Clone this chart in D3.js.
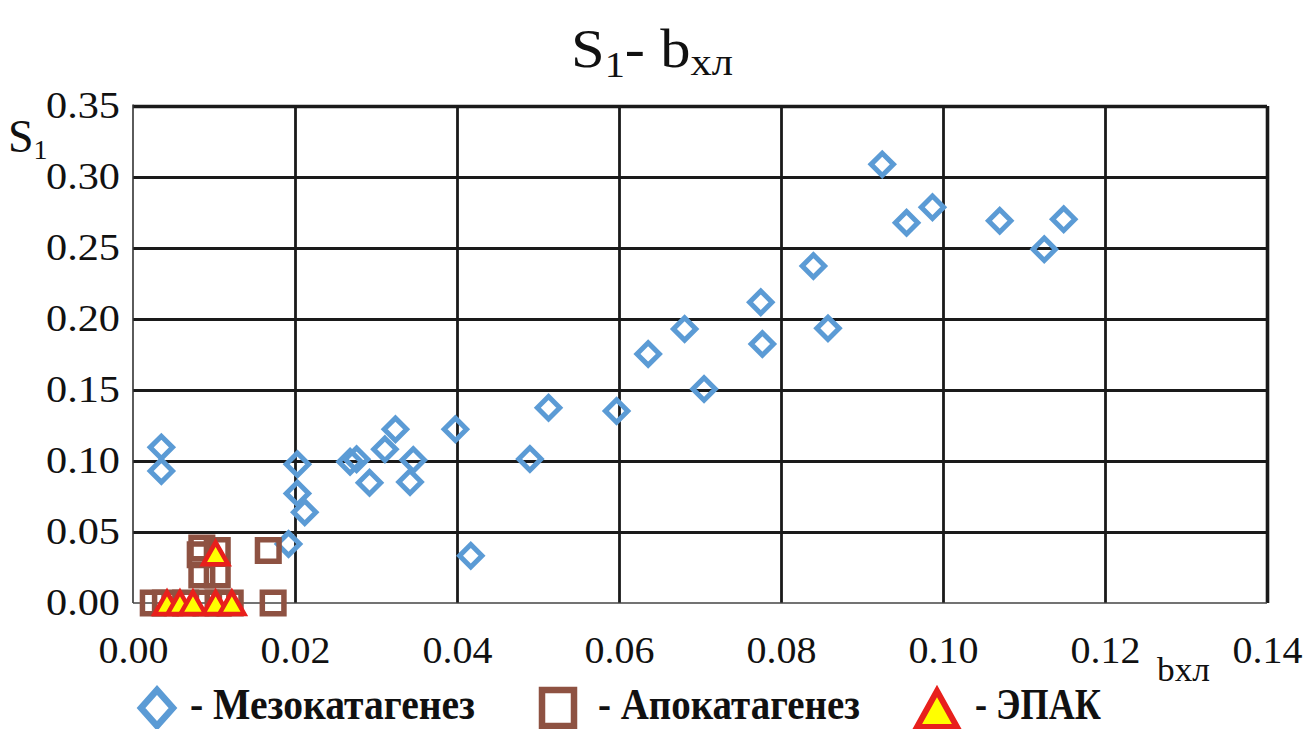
<!DOCTYPE html>
<html><head><meta charset="utf-8">
<script src="https://cdn.jsdelivr.net/npm/d3@7"></script>
<style>html,body{margin:0;padding:0;background:#fff;}svg{display:block;}</style>
</head><body>
<svg id="chart" width="1305" height="729"></svg>
<script>
// ---- Data ----
const xTicks = [0, 0.02, 0.04, 0.06, 0.08, 0.10, 0.12, 0.14];
const yTicks = [0, 0.05, 0.10, 0.15, 0.20, 0.25, 0.30, 0.35];

const mesoX = [0.0035, 0.0035, 0.0192, 0.0203, 0.0203, 0.0212, 0.0268, 0.0276, 0.0292, 0.0311, 0.0324, 0.0342, 0.0346, 0.0398, 0.0417,
  0.0490, 0.0513, 0.0597, 0.0636, 0.0681, 0.0705, 0.0775, 0.0777, 0.0840, 0.0858, 0.0925, 0.0955, 0.0987, 0.1070, 0.1125, 0.1149];
const mesoY = [0.1096, 0.0930, 0.0415, 0.0977, 0.0772, 0.0639, 0.0995, 0.1012, 0.0847, 0.1082, 0.1223, 0.0852, 0.1007, 0.1223, 0.0333,
  0.1014, 0.1375, 0.1352, 0.1754, 0.1930, 0.1507, 0.2118, 0.1824, 0.2373, 0.1934, 0.3089, 0.2678, 0.2787, 0.2692, 0.2491, 0.2702];

const apoX = [0.0083, 0.0085, 0.0104, 0.0167, 0.0085, 0.0104, 0.0025, 0.0040, 0.0065, 0.0090, 0.0105, 0.0120, 0.0173];
const apoY = [0.0340, 0.0387, 0.0370, 0.0370, 0.0197, 0.0197, 0, 0, 0, 0, 0, 0, 0];

const epakX = [0.0102, 0.0042, 0.0058, 0.0074, 0.0102, 0.0122];
const epakY = [0.0350, 0, 0, 0, 0, 0];

const legendLabels = ["- Мезокатагенез", "- Апокатагенез", "- ЭПАК"];

// ---- Layout ----
const svg = d3.select("#chart");
const L = 133, R = 1267, T = 106, B = 603;
const x = d3.scaleLinear().domain([0, 0.14]).range([L, R]);
const y = d3.scaleLinear().domain([0, 0.35]).range([B, T]);
const serif = "Liberation Serif, Times New Roman, serif";
const blue = "#5B9BD5", brown = "#8E5242", red = "#E8201C", yellow = "#FFFF00";

// grid via axes
const gx = svg.append("g").attr("transform", `translate(0,${B})`)
  .call(d3.axisBottom(x).tickValues(xTicks.filter(v => v > 0)).tickSize(-(B - T)).tickFormat(""));
gx.select(".domain").remove();
gx.selectAll("line").attr("stroke", "#1a1a1a").attr("stroke-width", 2.8);
gx.selectAll(".tick").filter(d => d === 0.14).select("line").attr("stroke-width", 3.6);

const gy = svg.append("g").attr("transform", `translate(${L},0)`)
  .call(d3.axisLeft(y).tickValues(yTicks.filter(v => v > 0)).tickSize(-(R - L)).tickFormat(""));
gy.select(".domain").remove();
gy.selectAll("line").attr("stroke", "#1a1a1a").attr("stroke-width", 2.8);
gy.selectAll(".tick").filter(d => d === 0.35).select("line").attr("stroke-width", 3.6);

// thin axis lines
svg.append("line").attr("x1", L).attr("x2", L).attr("y1", T - 1.5).attr("y2", B)
  .attr("stroke", "#333").attr("stroke-width", 1.6);
svg.append("line").attr("x1", L).attr("x2", R).attr("y1", B).attr("y2", B)
  .attr("stroke", "#444").attr("stroke-width", 1.6);

// tick labels via axes
const lx = svg.append("g").attr("transform", `translate(0,${B})`)
  .call(d3.axisBottom(x).tickValues(xTicks).tickSize(0).tickPadding(0).tickFormat(d3.format(".2f")));
lx.select(".domain").remove();
lx.selectAll("text").attr("font-family", serif).attr("font-size", 37).attr("fill", "#111")
  .attr("dy", null).attr("y", 60).attr("textLength", 70).attr("lengthAdjust", "spacingAndGlyphs");

const ly = svg.append("g").attr("transform", `translate(120,0)`)
  .call(d3.axisLeft(y).tickValues(yTicks).tickSize(0).tickPadding(0).tickFormat(d3.format(".2f")));
ly.select(".domain").remove();
ly.selectAll("text").attr("font-family", serif).attr("font-size", 37).attr("fill", "#111")
  .attr("dy", "0.30em").attr("x", 0).attr("textLength", 74).attr("lengthAdjust", "spacingAndGlyphs");

// ---- markers ----
const diamond = s => `M0,${-s}L${s},0L0,${s}L${-s},0Z`;
const square = s => `M${-s},${-s}H${s}V${s}H${-s}Z`;
const tri = (w, h) => `M0,${-h / 2}L${w / 2},${h / 2}L${-w / 2},${h / 2}Z`;

svg.append("g").selectAll("path").data(mesoX.map((v, i) => [v, mesoY[i]])).join("path")
  .attr("transform", d => `translate(${x(d[0])},${y(d[1])})`)
  .attr("d", diamond(11.2)).attr("fill", "none").attr("stroke", blue).attr("stroke-width", 5)
  .attr("stroke-linejoin", "miter");

svg.append("g").selectAll("path").data(apoX.map((v, i) => [v, apoY[i]])).join("path")
  .attr("transform", d => `translate(${x(d[0])},${y(d[1])})`)
  .attr("d", square(10.8)).attr("fill", "none").attr("stroke", brown).attr("stroke-width", 5.5);

svg.append("g").selectAll("path").data(epakX.map((v, i) => [v, epakY[i]])).join("path")
  .attr("transform", d => `translate(${x(d[0])},${y(d[1])})`)
  .attr("d", tri(25, 22)).attr("fill", yellow).attr("stroke", red).attr("stroke-width", 4.5)
  .attr("stroke-linejoin", "miter");

// ---- title ----
const title = svg.append("text").attr("x", 571).attr("y", 67).attr("font-family", serif)
  .attr("font-size", 54).attr("fill", "#111").attr("textLength", 162).attr("lengthAdjust", "spacingAndGlyphs");
title.append("tspan").text("S");
title.append("tspan").attr("font-size", 36).attr("dy", 10).text("1");
title.append("tspan").attr("dy", -10).text("- b");
title.append("tspan").attr("font-size", 38).attr("dy", 8).text("хл");

// y axis label
const yl = svg.append("text").attr("x", 8).attr("y", 152).attr("font-family", serif)
  .attr("font-size", 46).attr("fill", "#111");
yl.append("tspan").text("S");
yl.append("tspan").attr("font-size", 28).attr("dy", 7).text("1");

// x axis label
svg.append("text").attr("x", 1157).attr("y", 681).attr("font-family", serif)
  .attr("font-size", 34).attr("fill", "#111").attr("textLength", 53).attr("lengthAdjust", "spacingAndGlyphs").text("bхл");

// ---- legend ----
const lg = svg.append("g");
lg.append("path").attr("transform", "translate(157,708)").attr("d", `M0,-18L16,0L0,18L-16,0Z`)
  .attr("fill", "none").attr("stroke", blue).attr("stroke-width", 6.5);
lg.append("path").attr("transform", "translate(558,708)").attr("d", `M-16,-18H16V18H-16Z`)
  .attr("fill", "none").attr("stroke", brown).attr("stroke-width", 6.5);
lg.append("path").attr("transform", "translate(937,709)").attr("d", tri(40, 36))
  .attr("fill", yellow).attr("stroke", red).attr("stroke-width", 6);

const legX = [190, 598, 975];
const legW = [285, 262, 126];
legendLabels.forEach((t, i) => {
  lg.append("g").attr("transform", `translate(${legX[i]},719) scale(1,1.1)`)
    .append("text").attr("x", 0).attr("y", 0).attr("font-family", serif)
    .attr("font-weight", "bold").attr("font-size", 40).attr("fill", "#111")
    .attr("textLength", legW[i]).attr("lengthAdjust", "spacingAndGlyphs").text(t);
});
</script>
</body></html>
